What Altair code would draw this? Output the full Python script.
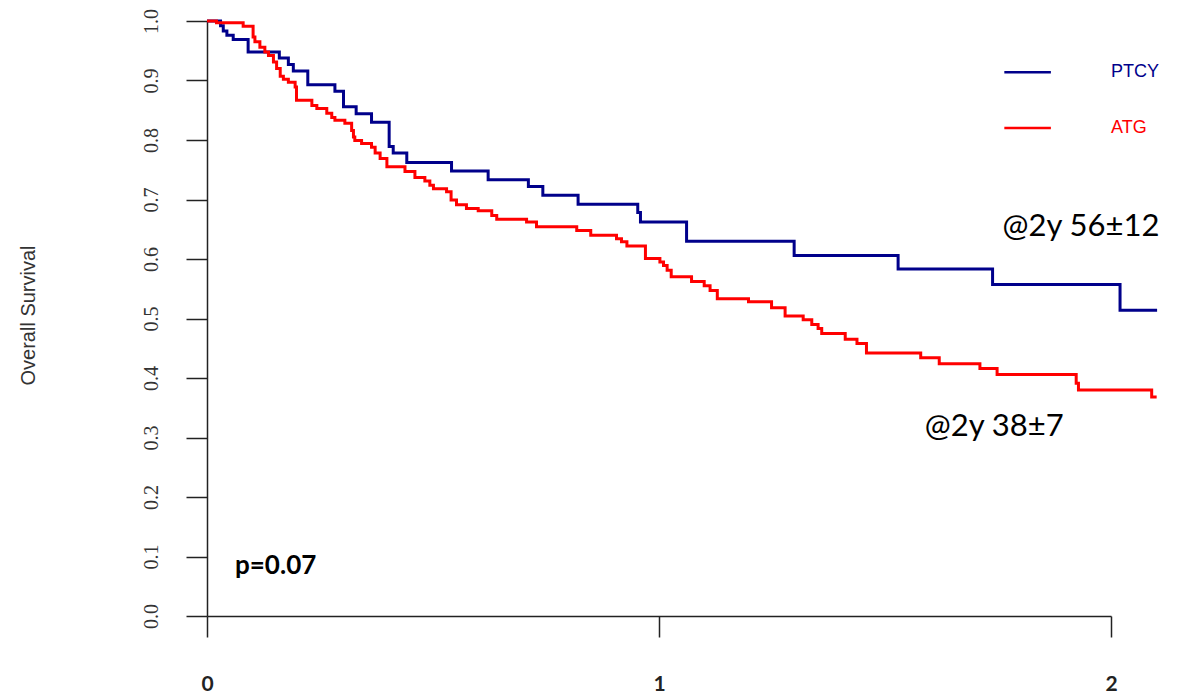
import altair as alt
import pandas as pd

# ---- data ----
blue_time = [0, 0.030, 0.036, 0.044, 0.058, 0.091, 0.160, 0.180, 0.191, 0.223,
             0.283, 0.302, 0.330, 0.364, 0.403, 0.412, 0.442, 0.541, 0.622, 0.711,
             0.743, 0.821, 0.953, 0.959, 1.061, 1.299, 1.529, 1.738, 2.020, 2.102]
blue_surv = [1.000, 0.992, 0.983, 0.976, 0.969, 0.948, 0.938, 0.927, 0.916, 0.893,
             0.882, 0.856, 0.844, 0.830, 0.789, 0.778, 0.762, 0.748, 0.733, 0.722,
             0.707, 0.692, 0.678, 0.662, 0.630, 0.606, 0.583, 0.557, 0.514, 0.514]

red_time = [0, 0.021, 0.080, 0.102, 0.106, 0.117, 0.128, 0.136, 0.147, 0.154,
            0.162, 0.169, 0.180, 0.195, 0.198, 0.232, 0.243, 0.265, 0.276, 0.283,
            0.305, 0.320, 0.324, 0.327, 0.342, 0.364, 0.372, 0.383, 0.398, 0.438,
            0.460, 0.482, 0.493, 0.501, 0.530, 0.540, 0.552, 0.574, 0.600, 0.630,
            0.641, 0.707, 0.729, 0.818, 0.849, 0.906, 0.917, 0.929, 0.970, 1.002,
            1.010, 1.018, 1.027, 1.072, 1.100, 1.113, 1.129, 1.198, 1.249, 1.279,
            1.319, 1.338, 1.352, 1.360, 1.412, 1.438, 1.459, 1.579, 1.620, 1.710,
            1.748, 1.923, 1.928, 2.090, 2.101]
red_surv = [1.000, 0.997, 0.991, 0.973, 0.965, 0.956, 0.948, 0.942, 0.931, 0.920,
            0.907, 0.902, 0.897, 0.889, 0.867, 0.858, 0.853, 0.845, 0.838, 0.833,
            0.828, 0.816, 0.805, 0.799, 0.794, 0.788, 0.778, 0.769, 0.755, 0.747,
            0.737, 0.731, 0.724, 0.718, 0.713, 0.699, 0.691, 0.685, 0.681, 0.673,
            0.667, 0.662, 0.654, 0.648, 0.640, 0.634, 0.629, 0.622, 0.601, 0.595,
            0.589, 0.581, 0.570, 0.562, 0.555, 0.547, 0.533, 0.528, 0.518, 0.504,
            0.498, 0.490, 0.483, 0.475, 0.465, 0.458, 0.442, 0.434, 0.424, 0.416,
            0.406, 0.391, 0.380, 0.368, 0.368]

groups = ["PTCY", "ATG"]
colors = ["#00008B", "#FF0000"]
x_max = 2          # x axis runs 0..2 with a tick every year
y_ticks = [0.0, 0.1, 0.2, 0.3, 0.4, 0.5, 0.6, 0.7, 0.8, 0.9, 1.0]
y_title = "Overall Survival"

curves = pd.concat([
    pd.DataFrame({"time": blue_time, "surv": blue_surv, "group": groups[0]}),
    pd.DataFrame({"time": red_time, "surv": red_surv, "group": groups[1]}),
], ignore_index=True)

xs = alt.Scale(domain=[0, x_max], nice=False, zero=False)
ys = alt.Scale(domain=[0, 1], nice=False)
col = alt.Scale(domain=groups, range=colors)

axis_common = dict(domainColor="#222222", domainWidth=1.5, tickColor="#222222",
                   tickWidth=1.5, tickSize=21, grid=False, labelOverlap=False,
                   labelFlush=False, labelBound=False)

x_axis = alt.Axis(tickCount=x_max, format="d", labelFont="Lato",
                  labelFontSize=21, labelFontWeight="bold", labelColor="#222222",
                  labelAlign="center", labelBaseline="middle", labelPadding=47,
                  **axis_common)
y_axis = alt.Axis(values=y_ticks, format=".1f", labelAngle=270,
                  labelFont="Liberation Serif", labelFontSize=20,
                  labelColor="#333333", labelAlign="center",
                  labelBaseline="alphabetic", labelPadding=29,
                  titleFont="Liberation Sans", titleFontSize=20,
                  titleFontWeight="normal", titleColor="#333333",
                  titleAngle=270, titleAlign="center", titleBaseline="middle",
                  titleX=-179, titleY=294, **axis_common)


def X(field):
    return alt.X(field, scale=xs, axis=x_axis, title=None)


def Y(field):
    return alt.Y(field, scale=ys, axis=y_axis, title=y_title)


lines = alt.Chart(curves).mark_line(interpolate="step-after", strokeWidth=3).encode(
    x=X("time:Q"), y=Y("surv:Q"),
    color=alt.Color("group:N", scale=col, legend=None),
    detail="group:N",
)

# legend (drawn in data coordinates)
leg = pd.DataFrame({"group": groups, "x1": [1.764, 1.764], "x2": [1.867, 1.867],
                    "y": [0.914, 0.820], "tx": [2.0, 2.0]})
leg_lines = alt.Chart(leg).mark_rule(strokeWidth=2.5).encode(
    x=X("x1:Q"), x2="x2:Q", y=Y("y:Q"),
    color=alt.Color("group:N", scale=col, legend=None))
leg_text = alt.Chart(leg).mark_text(align="left", baseline="middle", font="Liberation Sans",
                                    fontSize=18).encode(
    x=X("tx:Q"), y=Y("y:Q"), text="group:N",
    color=alt.Color("group:N", scale=col, legend=None))

notes = pd.DataFrame({"x": [1.760, 1.588], "y": [0.639, 0.3025],
                      "label": ["@2y 56\u00b112", "@2y 38\u00b17"]})
note_text = alt.Chart(notes).mark_text(align="left", baseline="alphabetic", font="Lato",
                                       fontSize=31, color="#000000").encode(
    x=X("x:Q"), y=Y("y:Q"), text="label:N")

pval = pd.DataFrame({"x": [0.062], "y": [0.0706], "label": ["p=0.07"]})
p_text = alt.Chart(pval).mark_text(align="left", baseline="alphabetic", font="Lato",
                                   fontSize=26, fontWeight="bold", color="#000000").encode(
    x=X("x:Q"), y=Y("y:Q"), text="label:N")

chart = alt.layer(lines, leg_lines, leg_text, note_text, p_text).properties(
    width=904, height=595,
    padding={"left": 207, "top": 21, "right": 80, "bottom": 79},
    autosize=alt.AutoSizeParams(type="none"),
    background="white",
).configure_view(stroke=None)

chart.save("out.html", embed_options={"renderer": "svg", "actions": False})
